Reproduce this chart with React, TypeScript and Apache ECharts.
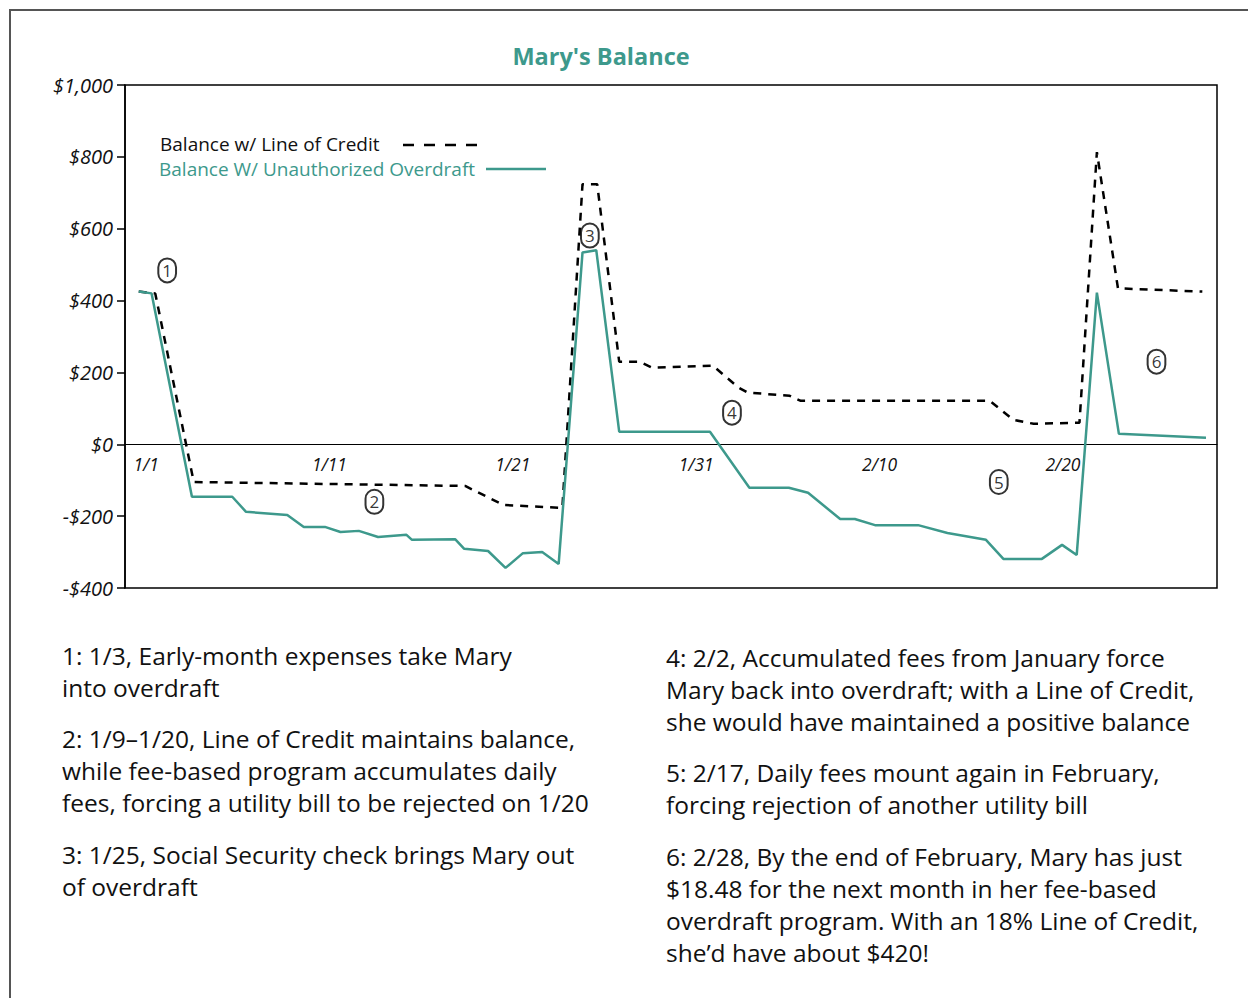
import React, { useEffect, useRef } from "react";
import * as echarts from "echarts";

// Day number (1 = Jan 1, 32 = Feb 1) and balances
const creditDays = [0.6, 1.5, 3.6, 18.4, 20.5, 23.7, 24.8, 25.6, 26.8, 27.9, 28.6, 31.9, 33.3, 33.8, 36.1, 36.7, 47.0, 48.3, 49.4, 51.9, 52.85, 54.0, 58.6];
const creditBalance = [425, 420, -105, -116, -169, -177, 724, 724, 230, 230, 213, 219, 158, 144, 135, 121, 121, 68, 57, 60, 813, 434, 425];

const overdraftDays = [0.6, 1.3, 3.5, 5.7, 6.45, 8.7, 9.6, 10.75, 11.6, 12.6, 13.65, 15.2, 15.5, 17.85, 18.35, 19.65, 20.6, 21.55, 22.6, 23.5, 24.8, 25.55, 26.8, 31.75, 33.9, 36.05, 37.1, 38.85, 39.65, 40.75, 43.1, 44.7, 46.8, 47.75, 49.85, 50.95, 51.75, 52.85, 54.05, 58.8];
const overdraftBalance = [425, 420, -146, -146, -188, -197, -230, -230, -244, -241, -258, -252, -266, -264, -291, -297, -344, -303, -300, -333, 534, 540, 35, 35, -121, -121, -135, -208, -208, -225, -225, -247, -266, -319, -319, -280, -308, 422, 29, 18];

const noteDays = [2.15, 13.45, 25.2, 32.95, 47.5, 56.1];
const noteValues = [484, -160, 581, 88, -105, 230];
const noteLabels = ["1", "2", "3", "4", "5", "6"];

const xTickDays = [1, 11, 21, 31, 41, 51];
const yTicks = [-400, -200, 0, 200, 400, 600, 800, 1000];

const seriesNames = ["Balance w/ Line of Credit", "Balance W/ Unauthorized Overdraft"];
const titleText = "Mary's Balance";

const notesLeft = [
  "1: 1/3, Early-month expenses take Mary\ninto overdraft",
  "2: 1/9–1/20, Line of Credit maintains balance,\nwhile fee-based program accumulates daily\nfees, forcing a utility bill to be rejected on 1/20",
  "3: 1/25, Social Security check brings Mary out\nof overdraft",
];
const notesRight = [
  "4: 2/2, Accumulated fees from January force\nMary back into overdraft; with a Line of Credit,\nshe would have maintained a positive balance",
  "5: 2/17, Daily fees mount again in February,\nforcing rejection of another utility bill",
  "6: 2/28, By the end of February, Mary has just\n$18.48 for the next month in her fee-based\noverdraft program. With an 18% Line of Credit,\nshe’d have about $420!",
];

const TEAL = "#3d998c";
const FONT = "'Open Sans', 'Noto Sans', sans-serif";

function dayLabel(d: number): string {
  return d <= 31 ? `1/${d}` : `2/${d - 31}`;
}

function money(v: number): string {
  const a = Math.abs(v).toLocaleString("en-US");
  return v < 0 ? `-$${a}` : `$${a}`;
}

export default function App() {
  const ref = useRef<HTMLDivElement>(null);

  useEffect(() => {
    if (!ref.current) return;
    const chart = echarts.init(ref.current, undefined, { renderer: "svg" });

    const creditData = creditDays.map((d, i) => [d, creditBalance[i]]);
    const overdraftData = overdraftDays.map((d, i) => [d, overdraftBalance[i]]);
    const noteData = noteDays.map((d, i) => [d, noteValues[i], noteLabels[i]]);

    const leftTops = [639, 722, 838];
    const rightTops = [641, 756, 840];

    const textEls: any[] = [];
    notesLeft.forEach((t, i) =>
      textEls.push({
        type: "text",
        x: 62,
        y: leftTops[i],
        style: { text: t, fill: "#111", font: `24.5px ${FONT}`, lineHeight: 32, verticalAlign: "top", align: "left" },
      })
    );
    notesRight.forEach((t, i) =>
      textEls.push({
        type: "text",
        x: 666,
        y: rightTops[i],
        style: { text: t, fill: "#111", font: `24.5px ${FONT}`, lineHeight: 32, verticalAlign: "top", align: "left" },
      })
    );

    chart.setOption({
      animation: false,
      backgroundColor: "#fff",
      title: {
        text: titleText,
        left: 596,
        top: 39,
        textAlign: "center",
        textStyle: { color: TEAL, fontSize: 23.5, fontWeight: "bold", fontFamily: FONT },
      },
      grid: {
        left: 125,
        right: 31,
        top: 85,
        bottom: 410,
        show: true,
        borderColor: "#000",
        borderWidth: 1.5,
        containLabel: false,
      },
      xAxis: {
        type: "value",
        min: -0.15,
        max: 59.4,
        axisLine: { show: true, onZero: true, lineStyle: { color: "#000", width: 1 } },
        axisTick: { show: false },
        splitLine: { show: false },
        axisLabel: {
          customValues: xTickDays,
          formatter: (v: number) => dayLabel(Math.round(v)),
          fontStyle: "italic",
          fontSize: 17.5,
          color: "#111",
          fontFamily: FONT,
          margin: -133,
        },
      },
      yAxis: {
        type: "value",
        min: -400,
        max: 1000,
        interval: 200,
        axisLine: { show: true, onZero: false, lineStyle: { color: "#000", width: 1.5 } },
        axisTick: { show: true, length: 8, lineStyle: { color: "#000", width: 1.5 } },
        splitLine: { show: false },
        axisLabel: {
          formatter: (v: number) => money(v),
          fontStyle: "italic",
          fontSize: 20,
          color: "#111",
          fontFamily: FONT,
          margin: 12,
        },
      },
      series: [
        {
          name: seriesNames[0],
          type: "line",
          data: creditData,
          symbol: "none",
          lineStyle: { color: "#000", width: 2.5, type: [8, 7] },
          itemStyle: { color: "#000" },
          z: 2,
        },
        {
          name: seriesNames[1],
          type: "line",
          data: overdraftData,
          symbol: "none",
          lineStyle: { color: TEAL, width: 2.5 },
          itemStyle: { color: TEAL },
          z: 3,
        },
        {
          name: "notes",
          type: "scatter",
          data: noteData,
          symbolSize: 0,
          z: 4,
          label: {
            show: true,
            position: "inside",
            formatter: (p: any) => p.data[2],
            color: "#000",
            fontSize: 17,
            lineHeight: 19,
            fontFamily: FONT,
            borderColor: "#000",
            borderWidth: 1,
            borderRadius: 10,
            padding: [3, 4, 2, 4],
            backgroundColor: "transparent",
          },
        },
      ],
      graphic: [
        {
          type: "rect",
          shape: { x: 10, y: 10, width: 1300, height: 1100 },
          style: { fill: "none", stroke: "#555", lineWidth: 2 },
          silent: true,
        },
        {
          type: "text",
          x: 160,
          y: 144,
          style: { text: seriesNames[0], fill: "#111", font: `19px ${FONT}`, verticalAlign: "middle" },
        },
        {
          type: "line",
          shape: { x1: 403, y1: 145, x2: 480, y2: 145 },
          style: { stroke: "#000", lineWidth: 2.5, lineDash: [11, 10] },
        },
        {
          type: "text",
          x: 159,
          y: 169,
          style: { text: seriesNames[1], fill: TEAL, font: `19px ${FONT}`, verticalAlign: "middle" },
        },
        {
          type: "line",
          shape: { x1: 486, y1: 169, x2: 546, y2: 169 },
          style: { stroke: TEAL, lineWidth: 2.5 },
        },
        ...textEls,
      ],
    });

    return () => chart.dispose();
  }, []);

  return (
    <div
      ref={ref}
      style={{ position: "absolute", left: 0, top: 0, width: 1248, height: 998 }}
    />
  );
}
